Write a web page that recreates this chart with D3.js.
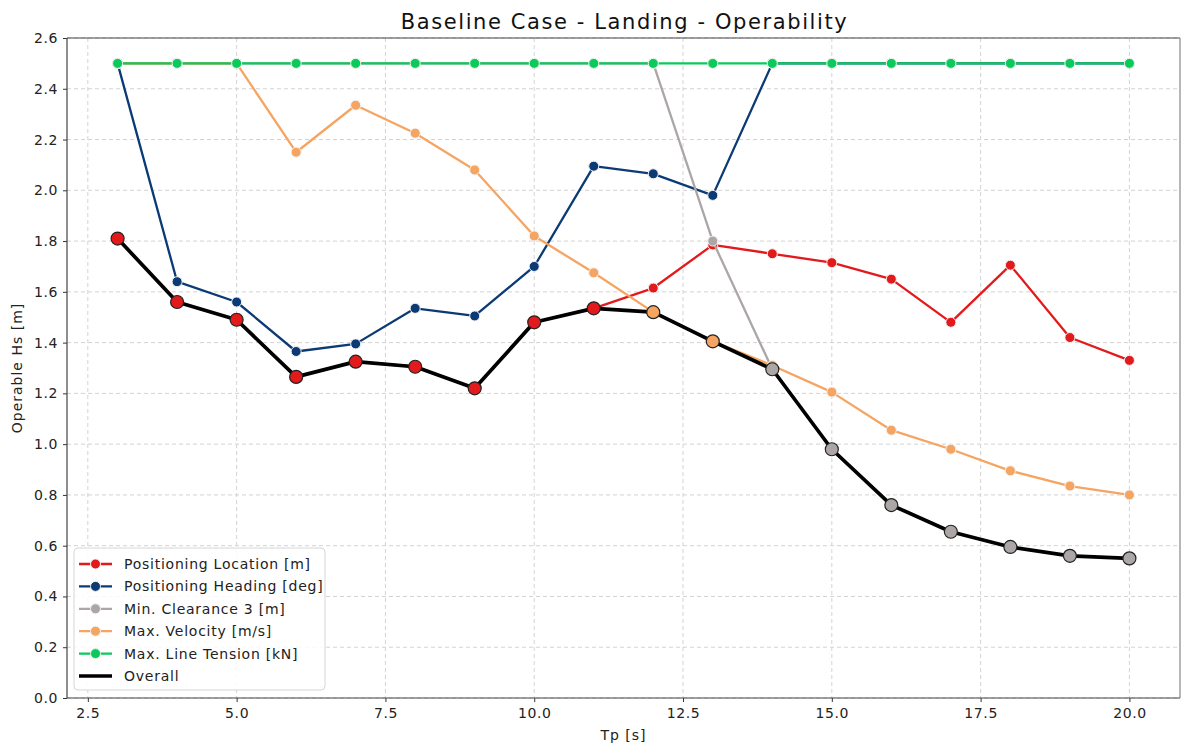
<!DOCTYPE html>
<html>
<head>
<meta charset="utf-8">
<script src="https://cdn.jsdelivr.net/npm/d3@7"></script>
<style>
  html, body { margin: 0; padding: 0; background: #ffffff; }
  svg { display: block; font-family: "DejaVu Sans", Verdana, sans-serif; }
</style>
</head>
<body>
<svg id="chart" width="1183" height="748"></svg>
<script>
// Wave period Tp [s]
const tp = [3, 4, 5, 6, 7, 8, 9, 10, 11, 12, 13, 14, 15, 16, 17, 18, 19, 20];

// Operable Hs [m] for each criterion
const positioningLocation = [1.81, 1.56, 1.49, 1.265, 1.325, 1.305, 1.22, 1.48, 1.535, 1.615, 1.785, 1.75, 1.715, 1.65, 1.48, 1.705, 1.42, 1.33];
const positioningHeading  = [2.5, 1.64, 1.56, 1.365, 1.395, 1.535, 1.505, 1.70, 2.095, 2.065, 1.98, 2.5, 2.5, 2.5, 2.5, 2.5, 2.5, 2.5];
const minClearance3       = [2.5, 2.5, 2.5, 2.5, 2.5, 2.5, 2.5, 2.5, 2.5, 2.5, 1.80, 1.295, 0.98, 0.76, 0.655, 0.595, 0.56, 0.55];
const maxVelocity         = [2.5, 2.5, 2.5, 2.15, 2.335, 2.225, 2.08, 1.82, 1.675, 1.52, 1.405, 1.31, 1.205, 1.055, 0.98, 0.895, 0.835, 0.80];
const maxLineTension      = [2.5, 2.5, 2.5, 2.5, 2.5, 2.5, 2.5, 2.5, 2.5, 2.5, 2.5, 2.5, 2.5, 2.5, 2.5, 2.5, 2.5, 2.5];

const seriesNames  = ["Positioning Location [m]", "Positioning Heading [deg]", "Min. Clearance 3 [m]", "Max. Velocity [m/s]", "Max. Line Tension [kN]"];
const seriesValues = [positioningLocation, positioningHeading, minClearance3, maxVelocity, maxLineTension];
const seriesColors = ["#e31a1c", "#0b3a75", "#aca6a6", "#f5a561", "#0acb5a"];

const yTicks = [0.0, 0.2, 0.4, 0.6, 0.8, 1.0, 1.2, 1.4, 1.6, 1.8, 2.0, 2.2, 2.4, 2.6];
const xTicks = [2.5, 5.0, 7.5, 10.0, 12.5, 15.0, 17.5, 20.0];

// Overall envelope: lowest operable Hs across all criteria, coloured by the governing one
const overall = tp.map((t, i) => {
  let k = 0;
  seriesValues.forEach((s, j) => { if (s[i] < seriesValues[k][i]) k = j; });
  return { t, v: seriesValues[k][i], k };
});

const svg = d3.select("#chart");
const plot = { left: 67, right: 1180, top: 38, bottom: 698 };

const x = d3.scaleLinear().domain([2.15, 20.85]).range([plot.left, plot.right]);
const y = d3.scaleLinear().domain([0, 2.6]).range([plot.bottom, plot.top]);

// Grid
const grid = svg.append("g");
grid.selectAll("line.gx").data(xTicks).join("line")
  .attr("x1", d => x(d)).attr("x2", d => x(d))
  .attr("y1", plot.top).attr("y2", plot.bottom)
  .attr("stroke", "#d3d3d3").attr("stroke-width", 1).attr("stroke-dasharray", "4,3");
grid.selectAll("line.gy").data(yTicks).join("line")
  .attr("x1", plot.left).attr("x2", plot.right)
  .attr("y1", d => y(d)).attr("y2", d => y(d))
  .attr("stroke", "#d3d3d3").attr("stroke-width", 1).attr("stroke-dasharray", "4,3");

// Series lines and markers
const line = d3.line().x(d => x(d.t)).y(d => y(d.v));
const content = svg.append("g");
seriesValues.forEach((vals, j) => {
  const pts = tp.map((t, i) => ({ t, v: vals[i] }));
  content.append("path").datum(pts)
    .attr("fill", "none").attr("stroke", seriesColors[j]).attr("stroke-width", 2.3)
    .attr("stroke-linejoin", "round").attr("d", line);
  content.append("g").selectAll("circle").data(pts).join("circle")
    .attr("cx", d => x(d.t)).attr("cy", d => y(d.v)).attr("r", 5)
    .attr("fill", seriesColors[j]).attr("stroke", "#f2f2f2").attr("stroke-width", 1);
});

// Overall envelope
content.append("path").datum(overall)
  .attr("fill", "none").attr("stroke", "#000").attr("stroke-width", 3.7)
  .attr("stroke-linejoin", "round").attr("d", line);
content.append("g").selectAll("circle").data(overall).join("circle")
  .attr("cx", d => x(d.t)).attr("cy", d => y(d.v)).attr("r", 6.5)
  .attr("fill", d => seriesColors[d.k]).attr("stroke", "#222").attr("stroke-width", 1.2);

// Axes
const xAxis = svg.append("g").attr("transform", `translate(0,${plot.bottom})`)
  .call(d3.axisBottom(x).tickValues(xTicks).tickFormat(d3.format(".1f")).tickSize(4).tickPadding(6));
const yAxis = svg.append("g").attr("transform", `translate(${plot.left},0)`)
  .call(d3.axisLeft(y).tickValues(yTicks).tickFormat(d3.format(".1f")).tickSize(4).tickPadding(5));
[xAxis, yAxis].forEach(a => {
  a.select(".domain").remove();
  a.selectAll("text").attr("font-size", 14).attr("letter-spacing", "0.6px").attr("fill", "#222")
    .attr("font-family", "DejaVu Sans, Verdana, sans-serif");
  a.selectAll("line").attr("stroke", "#333");
});

// Frame
svg.append("line").attr("x1", plot.left).attr("x2", plot.right).attr("y1", plot.top).attr("y2", plot.top)
  .attr("stroke", "#444").attr("stroke-width", 1.2);
svg.append("line").attr("x1", plot.right).attr("x2", plot.right).attr("y1", plot.top).attr("y2", plot.bottom)
  .attr("stroke", "#888").attr("stroke-width", 1.2);
svg.append("line").attr("x1", plot.left).attr("x2", plot.right).attr("y1", plot.bottom).attr("y2", plot.bottom)
  .attr("stroke", "#444").attr("stroke-width", 1.2);
svg.append("line").attr("x1", plot.left).attr("x2", plot.left).attr("y1", plot.top).attr("y2", plot.bottom)
  .attr("stroke", "#444").attr("stroke-width", 1.2);

// Title and axis labels
svg.append("text").attr("x", (plot.left + plot.right) / 2 + 1).attr("y", 29)
  .attr("text-anchor", "middle").attr("font-size", 21).attr("letter-spacing", "1.6px").attr("fill", "#111")
  .text("Baseline Case - Landing - Operability");
svg.append("text").attr("x", (plot.left + plot.right) / 2).attr("y", 740)
  .attr("text-anchor", "middle").attr("font-size", 14).attr("letter-spacing", "1px").attr("fill", "#222")
  .text("Tp [s]");
svg.append("text").attr("transform", `translate(22,${(plot.top + plot.bottom) / 2}) rotate(-90)`)
  .attr("text-anchor", "middle").attr("font-size", 14).attr("letter-spacing", "1px").attr("fill", "#222")
  .text("Operable Hs [m]");

// Legend
const legendItems = seriesNames.map((n, j) => ({ name: n, color: seriesColors[j], marker: true }))
  .concat([{ name: "Overall", color: "#000", marker: false }]);
const lg = svg.append("g").attr("transform", "translate(74,548)");
lg.append("rect").attr("width", 251).attr("height", 142).attr("rx", 4)
  .attr("fill", "rgba(255,255,255,0.85)").attr("stroke", "#d6d6d6").attr("stroke-width", 1);
const rows = lg.selectAll("g.row").data(legendItems).join("g")
  .attr("transform", (d, i) => `translate(0,${16 + i * 22.4})`);
rows.append("line").attr("x1", 5).attr("x2", 38).attr("y1", 0).attr("y2", 0)
  .attr("stroke", d => d.color).attr("stroke-width", d => d.marker ? 2.3 : 3.7);
rows.filter(d => d.marker).append("circle").attr("cx", 21.5).attr("cy", 0).attr("r", 5)
  .attr("fill", d => d.color).attr("stroke", "#f2f2f2").attr("stroke-width", 1);
rows.append("text").attr("x", 50).attr("y", 0).attr("dy", "0.35em")
  .attr("font-size", 14).attr("letter-spacing", "0.75px").attr("fill", "#222").text(d => d.name);
</script>
</body>
</html>
